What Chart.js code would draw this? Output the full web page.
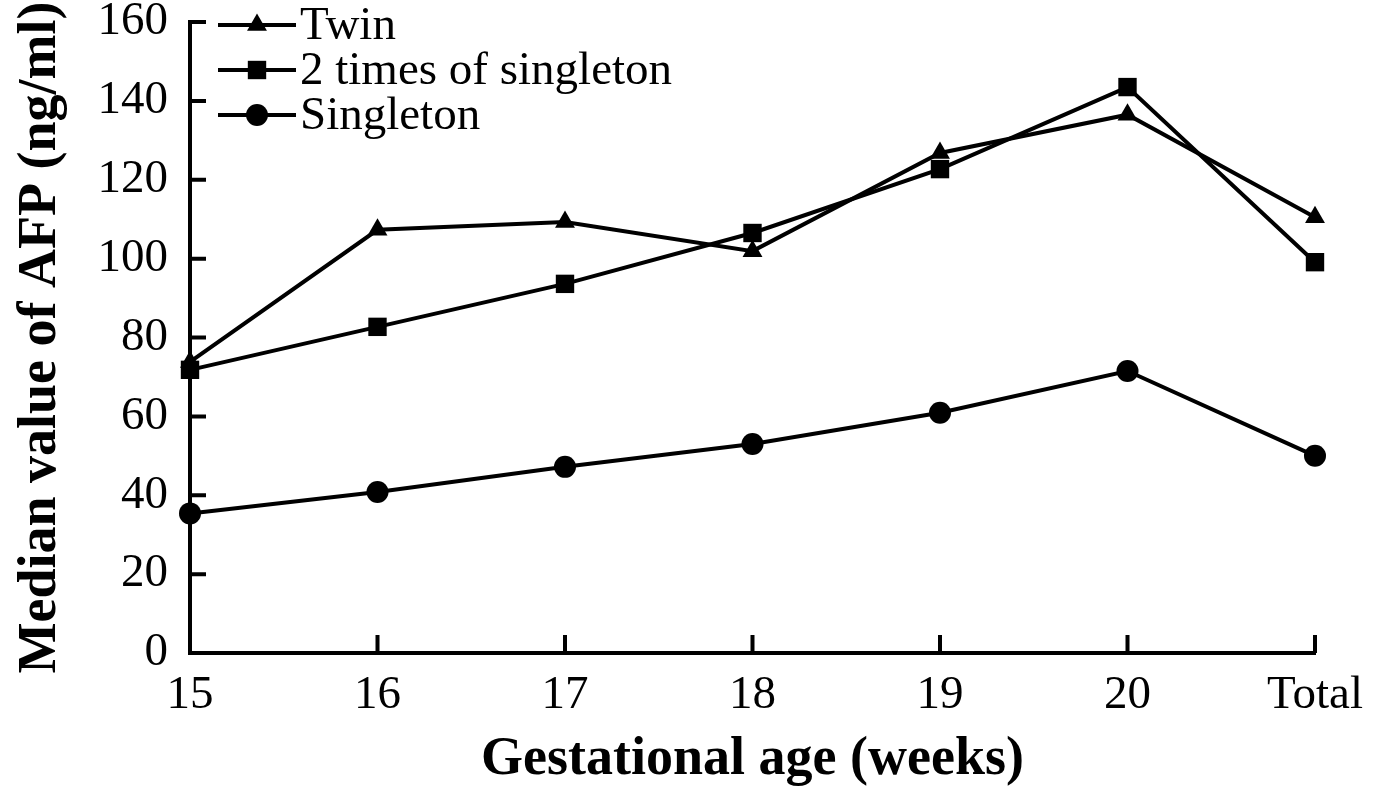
<!DOCTYPE html>
<html>
<head>
<meta charset="utf-8">
<script src="https://cdn.jsdelivr.net/npm/chart.js@4/dist/chart.umd.min.js"></script>
<style>
html,body{margin:0;padding:0;background:#fff;}
#wrap{width:1395px;height:787px;position:relative;}
</style>
</head>
<body>
<div id="wrap"><canvas id="c"></canvas></div>
<script>
const categories = ['15', '16', '17', '18', '19', '20', 'Total'];
const twin = [73.8, 107.3, 109.3, 101.9, 126.8, 136.5, 110.5];
const twoTimesSingleton = [71.8, 82.7, 93.6, 106.5, 122.7, 143.5, 99.1];
const singleton = [35.4, 40.8, 47.2, 53.0, 60.9, 71.5, 50.0];
const seriesNames = ['Twin', '2 times of singleton', 'Singleton'];
const yTicks = [0, 20, 40, 60, 80, 100, 120, 140, 160];

const FONT = "'Liberation Serif', 'Times New Roman', serif";

function drawMarker(ctx, style, r, x, y) {
  ctx.save();
  ctx.fillStyle = '#000';
  ctx.beginPath();
  if (style === 'circle') {
    ctx.arc(x, y, r, 0, Math.PI * 2);
  } else if (style === 'rect') {
    const s = Math.SQRT1_2 * r;
    ctx.rect(x - s, y - s, 2 * s, 2 * s);
  } else if (style === 'triangle') {
    let a = 0;
    ctx.moveTo(x + Math.sin(a) * r, y - Math.cos(a) * r);
    a += 2 * Math.PI / 3;
    ctx.lineTo(x + Math.sin(a) * r, y - Math.cos(a) * r);
    a += 2 * Math.PI / 3;
    ctx.lineTo(x + Math.sin(a) * r, y - Math.cos(a) * r);
    ctx.closePath();
  }
  ctx.fill();
  ctx.restore();
}

const tickPlugin = {
  id: 'inwardTicks',
  afterDatasetsDraw(chart) {
    const ctx = chart.ctx;
    const xs = chart.scales.x, ys = chart.scales.y;
    const area = chart.chartArea;
    ctx.save();
    ctx.strokeStyle = '#000';
    ctx.lineWidth = 4;
    ctx.beginPath();
    yTicks.forEach(v => {
      if (v === 0) return;
      const p = ys.getPixelForValue(v);
      ctx.moveTo(area.left, p);
      ctx.lineTo(area.left + 16, p);
    });
    categories.forEach((c, i) => {
      if (i === 0) return;
      const p = xs.getPixelForValue(i);
      ctx.moveTo(p, area.bottom);
      ctx.lineTo(p, area.bottom - 18);
    });
    ctx.stroke();
    ctx.restore();
  }
};

const legendPlugin = {
  id: 'customLegend',
  afterDraw(chart) {
    const ctx = chart.ctx;
    const rows = [25, 70, 115];
    ctx.save();
    chart.data.datasets.forEach((ds, i) => {
      const y = rows[i];
      ctx.strokeStyle = '#000';
      ctx.lineWidth = 4;
      ctx.beginPath();
      ctx.moveTo(218, y);
      ctx.lineTo(296, y);
      ctx.stroke();
      drawMarker(ctx, ds.pointStyle, ds.pointRadius, 257, y);
      ctx.fillStyle = '#000';
      ctx.font = "47px " + FONT;
      ctx.textBaseline = 'middle';
      ctx.textAlign = 'left';
      ctx.fillText(ds.label, 300, y + 2);
    });
    ctx.restore();
  }
};

function makeDataset(label, data, style, radius) {
  return {
    label: label,
    data: data,
    borderColor: '#000',
    backgroundColor: '#000',
    borderWidth: 4,
    pointStyle: style,
    pointRadius: radius,
    pointHoverRadius: radius,
    pointBackgroundColor: '#000',
    pointBorderColor: '#000',
    pointBorderWidth: 0,
    tension: 0,
    clip: false
  };
}

new Chart(document.getElementById('c'), {
  type: 'line',
  data: {
    labels: categories,
    datasets: [
      makeDataset(seriesNames[0], twin, 'triangle', 11.5),
      makeDataset(seriesNames[1], twoTimesSingleton, 'rect', 13),
      makeDataset(seriesNames[2], singleton, 'circle', 11)
    ]
  },
  options: {
    responsive: true,
    maintainAspectRatio: false,
    animation: false,
    events: [],
    layout: { padding: { left: 0, top: 22, right: 80, bottom: 0 } },
    plugins: { legend: { display: false }, tooltip: { enabled: false } },
    scales: {
      x: {
        type: 'category',
        offset: false,
        grid: { display: false },
        border: { display: true, color: '#000', width: 4 },
        ticks: {
          color: '#000',
          font: { family: FONT, size: 47 },
          padding: 6,
          maxRotation: 0,
          autoSkip: false
        },
        title: {
          display: true,
          text: 'Gestational age (weeks)',
          color: '#000',
          font: { family: FONT, size: 54, weight: 'bold', lineHeight: 1 },
          padding: { top: 0, bottom: 0 }
        },
        afterFit(scale) {
          scale.height = 134;
          scale.paddingLeft = 0;
          scale.paddingRight = 0;
        }
      },
      y: {
        min: 0,
        max: 160,
        grid: { display: false },
        border: { display: true, color: '#000', width: 4 },
        ticks: {
          stepSize: 20,
          color: '#000',
          font: { family: FONT, size: 47 },
          padding: 14
        },
        title: {
          display: true,
          text: 'Median value of AFP (ng/ml)',
          color: '#000',
          font: { family: FONT, size: 54, weight: 'bold', lineHeight: 1 },
          padding: 14
        },
        afterFit(scale) {
          scale.width = 190;
          scale.paddingTop = 0;
          scale.paddingBottom = 0;
        }
      }
    }
  },
  plugins: [tickPlugin, legendPlugin]
});
</script>
</body>
</html>
